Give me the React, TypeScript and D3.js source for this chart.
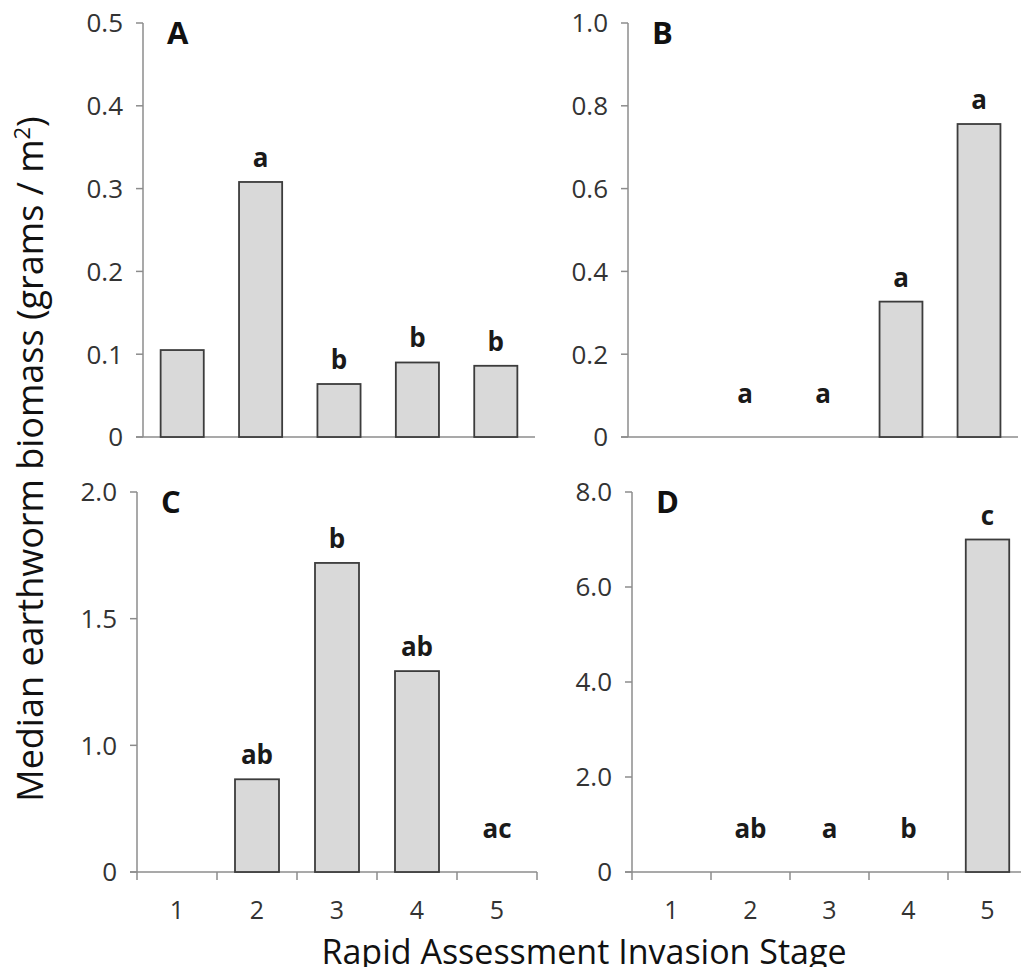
import * as d3 from 'd3';

// Invasion stages on the x axis
const stages = ['1', '2', '3', '4', '5'];

// Median biomass per stage (g / m2), one array per panel
const biomassA = [0.105, 0.308, 0.064, 0.09, 0.086];
const biomassB = [0, 0, 0, 0.327, 0.756];
const biomassC = [0, 0.866, 1.72, 1.293, 0];
const biomassD = [0, 0, 0, 0, 7.0];

// Significance letters above each stage
const lettersA = ['', 'a', 'b', 'b', 'b'];
const lettersB = ['', 'a', 'a', 'a', 'a'];
const lettersC = ['', 'ab', 'b', 'ab', 'ac'];
const lettersD = ['', 'ab', 'a', 'b', 'c'];

// y-axis ticks and their labels
const ticksA = [0, 0.1, 0.2, 0.3, 0.4, 0.5];
const tickLabelsA = ['0', '0.1', '0.2', '0.3', '0.4', '0.5'];
const ticksB = [0, 0.2, 0.4, 0.6, 0.8, 1.0];
const tickLabelsB = ['0', '0.2', '0.4', '0.6', '0.8', '1.0'];
// panel C's axis starts at 0.5 but its bottom tick is printed as "0"
const ticksC = [0.5, 1.0, 1.5, 2.0];
const tickLabelsC = ['0', '1.0', '1.5', '2.0'];
const ticksD = [0, 2, 4, 6, 8];
const tickLabelsD = ['0', '2.0', '4.0', '6.0', '8.0'];

const FONT = "'Open Sans', 'Noto Sans', sans-serif";
const AXIS = '#8c8c8c';
const TEXT = '#333';

interface PanelProps {
  tag: string;
  values: number[];
  letters: string[];
  ticks: number[];
  tickLabels: string[];
  left: number;
  top: number;
  width: number;
  height: number;
  showX: boolean;
}

function Panel({ tag, values, letters, ticks, tickLabels, left, top, width, height, showX }: PanelProps) {
  const x = d3.scaleBand<string>()
    .domain(stages)
    .range([0, width])
    .paddingInner(0.45)
    .paddingOuter(0.225);
  const y = d3.scaleLinear()
    .domain([ticks[0], ticks[ticks.length - 1]])
    .range([height, 0]);
  const step = x.step();
  const mid = (s: string) => (x(s) ?? 0) + x.bandwidth() / 2;

  return (
    <g transform={`translate(${left},${top})`}>
      {/* y axis */}
      <line x1={0} x2={0} y1={0} y2={showX ? height + 8 : height} stroke={AXIS} strokeWidth={1.5} />
      {ticks.map((t, i) => (
        <g key={t} transform={`translate(0,${y(t)})`}>
          <line x1={-7} x2={0} stroke={AXIS} strokeWidth={1.5} />
          <text x={-20} dy="0.36em" textAnchor="end" fontSize={26} fill={TEXT}>{tickLabels[i]}</text>
        </g>
      ))}
      {/* x axis */}
      <line x1={-7} x2={width} y1={height} y2={height} stroke={AXIS} strokeWidth={1.5} />
      {showX && stages.map((s, i) => (
        <g key={s}>
          <line x1={step * (i + 1)} x2={step * (i + 1)} y1={height} y2={height + 8} stroke={AXIS} strokeWidth={1.5} />
          <text x={mid(s)} y={height + 47} textAnchor="middle" fontSize={25} fill={TEXT}>{s}</text>
        </g>
      ))}
      {/* bars */}
      {values.map((v, i) => v > 0 && (
        <rect key={i}
          x={x(stages[i])}
          y={y(v)}
          width={x.bandwidth()}
          height={height - y(v)}
          fill="#d9d9d9"
          stroke="#3c3c3c"
          strokeWidth={1.8} />
      ))}
      {/* letters */}
      {letters.map((l, i) => (
        <text key={i}
          x={mid(stages[i])}
          y={values[i] > 0 ? y(values[i]) - 15 : height - 34}
          textAnchor="middle" fontSize={26} fontWeight="bold" fill="#1a1a1a">{l}</text>
      ))}
      <text x={24} y={21} fontSize={31} fontWeight="bold" fill="#111">{tag}</text>
    </g>
  );
}

export default function App() {
  return (
    <svg width={1029} height={975} style={{ display: 'block', margin: -8, fontFamily: FONT, background: '#fff' }}>
      <Panel tag="A" values={biomassA} letters={lettersA} ticks={ticksA} tickLabels={tickLabelsA}
        left={143} top={23} width={392} height={414} showX={false} />
      <Panel tag="B" values={biomassB} letters={lettersB} ticks={ticksB} tickLabels={tickLabelsB}
        left={628} top={23} width={390} height={414} showX={false} />
      <Panel tag="C" values={biomassC} letters={lettersC} ticks={ticksC} tickLabels={tickLabelsC}
        left={137} top={492} width={400} height={380} showX={true} />
      <Panel tag="D" values={biomassD} letters={lettersD} ticks={ticksD} tickLabels={tickLabelsD}
        left={632} top={492} width={395} height={380} showX={true} />
      <text transform="translate(43,459) rotate(-90)" textAnchor="middle" fontSize={36} fill="#111">
        Median earthworm biomass (grams / m<tspan dy={-13} fontSize={22}>2</tspan><tspan dy={13}>)</tspan>
      </text>
      <text x={584} y={964} textAnchor="middle" fontSize={34} fill="#111">Rapid Assessment Invasion Stage</text>
    </svg>
  );
}
